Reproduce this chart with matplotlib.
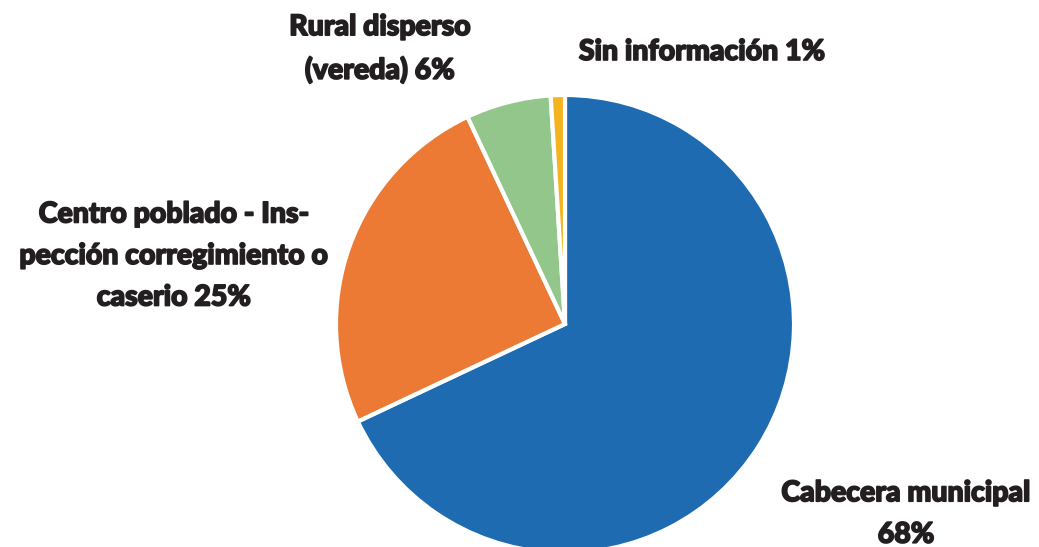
import matplotlib
matplotlib.use("Agg")
import matplotlib.pyplot as plt
import matplotlib.patheffects as pe

labels = ["Cabecera municipal\n68%",
          "Centro poblado - Ins-\npección corregimiento o\ncaserio 25%",
          "Rural disperso\n(vereda) 6%",
          "Sin información 1%"]
values = [68, 25, 6, 1]
colors = ["#1e6bb2", "#ec7a35", "#93c68a", "#f5b41e"]

# label anchor positions (pixels, top-left origin)
label_pos = [(906, 514), (174, 256), (380, 49), (702, 52)]

W, H = 1039, 547
fig = plt.figure(figsize=(W / 100, H / 100), dpi=100)
ax = fig.add_axes([0, 0, 1, 1])

ax.pie(values, colors=colors, startangle=90, counterclock=False,
       center=(565, H - 324), radius=229,
       wedgeprops=dict(edgecolor="white", linewidth=3))

for lab, (x, y) in zip(labels, label_pos):
    ax.text(x, H - y, lab, ha="center", va="center", fontsize=20.5,
            fontfamily="Lato", fontweight="black", color="#231f20",
            linespacing=1.74,
            path_effects=[pe.withStroke(linewidth=1.2, foreground="#231f20")])

ax.set_xlim(0, W)
ax.set_ylim(0, H)
ax.set_aspect("equal")
ax.axis("off")

fig.savefig("out.png", dpi=100)
